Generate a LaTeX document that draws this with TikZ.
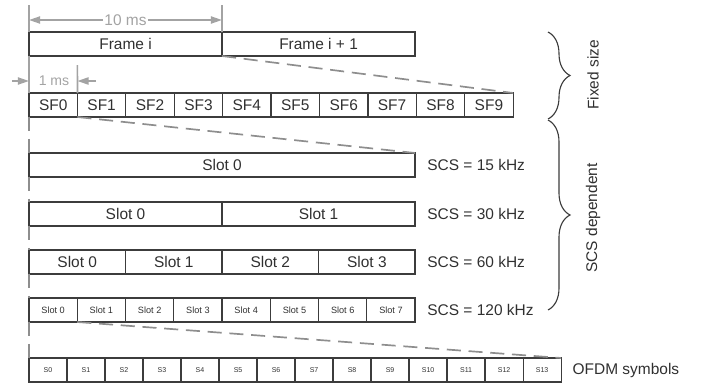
\documentclass[tikz,border=0pt]{standalone}
\usepackage{fontspec}
\setmainfont{Liberation Sans}
\usetikzlibrary{arrows.meta,chains,positioning,%
                    decorations.pathreplacing}
\definecolor{boxline}{HTML}{3C3C3C}
\definecolor{boxtext}{HTML}{303030}
\definecolor{dimgray}{HTML}{A3A3A3}
\definecolor{dashgray}{HTML}{8E8E8E}

\begin{document}
\begin{tikzpicture}[
  x=0.025cm, y=-0.025cm,
  font=\fontsize{11}{13}\selectfont,
  node distance = 0pt,
BoxStyle/.style={draw=boxline, line width=0.9pt, text=boxtext,
                minimum height=0.6cm, inner sep=0pt, outer sep=0pt, on chain},
FrameBox/.style={BoxStyle, minimum width=4.825cm},
SFBox/.style={BoxStyle, minimum width=1.21cm},
SlotBox/.style={BoxStyle, minimum width=#1},
SlotTiny/.style={BoxStyle, minimum width=1.20625cm, font=\fontsize{6.5}{8}\selectfont},
SymBox/.style={BoxStyle, minimum width=0.95cm, font=\fontsize{5}{6}\selectfont},
DimLine/.style={draw=dimgray, line width=1.2pt},
DimArrow/.style={DimLine, -{Triangle[length=2.8mm, width=1.8mm]}},
ZoomLine/.style={draw=dashgray, line width=1.2pt, dash pattern=on 10pt off 5.5pt},
LabelStyle/.style={text=boxtext, inner sep=0pt},
BraceStyle/.style={draw=boxline, line width=0.8pt, decorate,
                decoration={brace, amplitude=0.55cm}},
  ]
\useasboundingbox (0,0) rectangle (709,389);

% frames
\begin{scope}[start chain=going right]
\node [FrameBox, anchor=west] (f0) at (29,44) {Frame i};
\node [FrameBox] (f1) {Frame i + 1};
\end{scope}

% subframes
\begin{scope}[start chain=going right]
\node [SFBox, anchor=west] (sf0) at (29,105) {SF0};
\foreach \i in {1,...,9}
  \node [SFBox] (sf\i) {SF\i};
\end{scope}

% slots
\begin{scope}[start chain=going right]
\node [SlotBox=9.65cm, anchor=west] (a0) at (29,165) {Slot 0};
\end{scope}
\begin{scope}[start chain=going right]
\node [SlotBox=4.825cm, anchor=west] (b0) at (29,214) {Slot 0};
\node [SlotBox=4.825cm] (b1) {Slot 1};
\end{scope}
\begin{scope}[start chain=going right]
\node [SlotBox=2.4125cm, anchor=west] (c0) at (29,262) {Slot 0};
\node [SlotBox=2.4125cm] (c1) {Slot 1};
\node [SlotBox=2.4125cm] (c2) {Slot 2};
\node [SlotBox=2.4125cm] (c3) {Slot 3};
\end{scope}
\begin{scope}[start chain=going right]
\node [SlotTiny, anchor=west] (d0) at (29,310) {Slot 0};
\foreach \i in {1,...,7}
  \node [SlotTiny] (d\i) {Slot \i};
\end{scope}

% OFDM symbols
\begin{scope}[start chain=going right]
\node [SymBox, anchor=west] (s0) at (29,370) {S0};
\foreach \i in {1,...,13}
  \node [SymBox] (s\i) {S\i};
\end{scope}

\node [LabelStyle, right=0.3cm of a0] (l15) {SCS = 15 kHz};
\node [LabelStyle, right=0.3cm of b1] (l30) {SCS = 30 kHz};
\node [LabelStyle, right=0.3cm of c3] (l60) {SCS = 60 kHz};
\node [LabelStyle, right=0.3cm of d7] (l120) {SCS = 120 kHz};
\node [LabelStyle, right=0.28cm of s13] (lsym) {OFDM symbols};

% 10 ms
\coordinate (t0) at (29,5);
\coordinate (t1) at (222,5);
\coordinate (m0) at (29,20);
\coordinate (m1) at (222,20);
\draw [DimLine] (t0) -- (f0.north west);
\draw [DimLine] (f0.south west) -- (sf0.north west);
\draw [DimLine] (t1) -- (f0.north east);
\draw [DimLine, {Triangle[length=2.8mm, width=1.8mm]}-{Triangle[length=2.8mm, width=1.8mm]}]
  (m0) -- node[fill=white, text=dimgray, inner sep=1pt] (tenms) {10 ms} (m1);

% 1 ms
\coordinate (u0) at (77.4,65);
\coordinate (p0) at (12,81);
\coordinate (p1) at (29,81);
\coordinate (p2) at (96,81);
\coordinate (p3) at (77.4,81);
\draw [DimLine] (u0) -- (sf0.north east);
\draw [DimArrow] (p0) -- (p1);
\draw [DimArrow] (p2) -- (p3);
\node [text=dimgray, font=\fontsize{10}{12}\selectfont] (onems) at (54,81) {1 ms};

% zoom lines
\draw [ZoomLine] (f0.south east) -- (sf9.north east);
\draw [ZoomLine] (sf0.south east) -- (a0.north east);
\draw [ZoomLine] (d0.south east) -- (s13.north east);
\foreach \u/\l in {sf0/a0, a0/b0, b0/c0, c0/d0, d0/s0}
  \draw [ZoomLine] (\u.south west) -- (\l.north west);

% braces
\coordinate (k0) at (548,32);
\coordinate (k1) at (548,119);
\coordinate (k2) at (548,120);
\coordinate (k3) at (548,310);
\draw [BraceStyle] (k0) -- (k1);
\draw [BraceStyle] (k2) -- (k3);
\node [LabelStyle, rotate=90] (fixed) at (593,75) {Fixed size};
\node [LabelStyle, rotate=90] (scsdep) at (593,218) {SCS dependent};
\end{tikzpicture}
\end{document}
